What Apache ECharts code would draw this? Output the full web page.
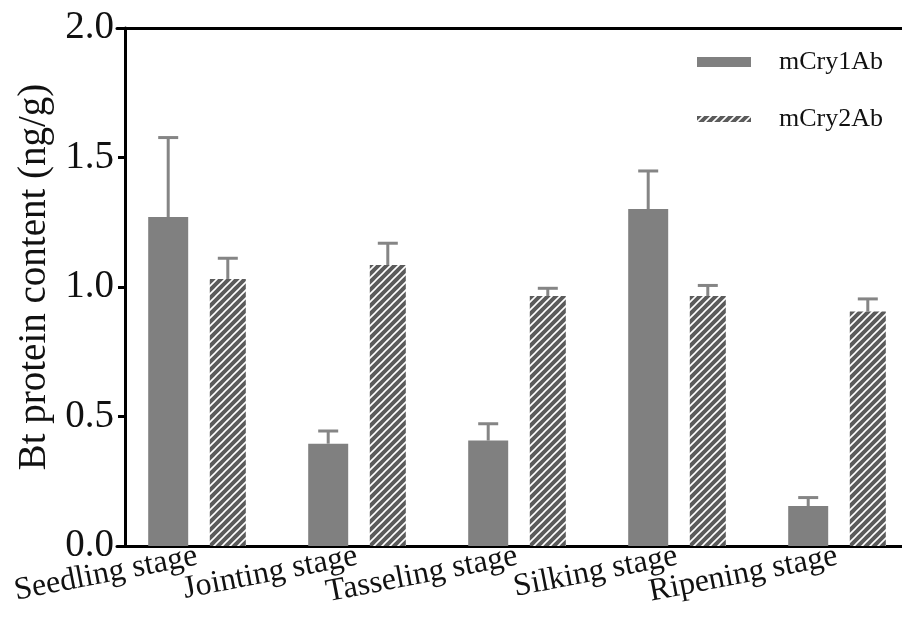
<!DOCTYPE html>
<html>
<head>
<meta charset="utf-8">
<script src="https://cdn.jsdelivr.net/npm/echarts@6/dist/echarts.min.js"></script>
<style>html,body{margin:0;padding:0;background:#fff}#c{width:902px;height:621px}</style>
</head>
<body>
<div id="c"></div>
<script>
const categories = ['Seedling stage', 'Jointing stage', 'Tasseling stage', 'Silking stage', 'Ripening stage'];
const cry1Ab = [1.270, 0.395, 0.407, 1.301, 0.154];
const cry1AbErr = [0.307, 0.049, 0.065, 0.147, 0.033];
const cry2Ab = [1.031, 1.085, 0.965, 0.965, 0.905];
const cry2AbErr = [0.080, 0.084, 0.030, 0.041, 0.049];
const yTicks = [0, 0.5, 1.0, 1.5, 2.0];

const FONT = '"Liberation Serif", "Times New Roman", serif';

// hatch pattern
const tile = document.createElement('canvas');
tile.width = 8; tile.height = 8;
const g = tile.getContext('2d');
g.fillStyle = '#5b5b5b';
g.fillRect(0, 0, 8, 8);
g.strokeStyle = '#ffffff';
g.lineWidth = 1.6;
g.beginPath();
g.moveTo(-1, 9); g.lineTo(9, -1);
g.moveTo(-1, 1); g.lineTo(1, -1);
g.moveTo(7, 9); g.lineTo(9, 7);
g.stroke();
const hatch = { image: tile, repeat: 'repeat' };

const W1 = 40, W2 = 36, GAP = 0.54;
const sum = W1 + W1 * GAP + W2;
const off1 = -sum / 2 + W1 / 2;
const off2 = -sum / 2 + W1 * (1 + GAP) + W2 / 2;

function errRender(offset) {
  return function (params, api) {
    const x = api.value(0), m = api.value(1), e = api.value(2);
    const b = api.coord([x, m]);
    const t = api.coord([x, m + e]);
    const cx = b[0] + offset;
    const st = { stroke: '#858585', lineWidth: 3 };
    return {
      type: 'group',
      children: [
        { type: 'line', shape: { x1: cx, y1: b[1], x2: cx, y2: t[1] }, style: st },
        { type: 'line', shape: { x1: cx - 10, y1: t[1], x2: cx + 10, y2: t[1] }, style: st }
      ]
    };
  };
}

const chart = echarts.init(document.getElementById('c'), null, { renderer: 'canvas' });
chart.setOption({
  animation: false,
  backgroundColor: '#ffffff',
  grid: { left: 117, width: 800, top: 28, height: 518, containLabel: false, outerBoundsMode: 'none' },
  legend: {
    orient: 'vertical',
    left: 692,
    top: 44,
    itemWidth: 54,
    itemHeight: 10,
    itemGap: 31,
    textStyle: { fontFamily: FONT, fontSize: 26, color: '#111', padding: [0, 0, 0, 23] },
    data: [
      { name: 'mCry1Ab', icon: 'rect' },
      { name: 'mCry2Ab', icon: 'path://M0,0h54v6h-54z' }
    ]
  },
  xAxis: [
    {
      type: 'category',
      data: categories,
      position: 'bottom',
      axisLine: { show: true, lineStyle: { color: '#000', width: 3 } },
      axisTick: { show: false },
      axisLabel: { rotate: 11, margin: 10, fontFamily: FONT, fontSize: 32, color: '#111', interval: 0 }
    },
    {
      type: 'category',
      data: categories,
      position: 'top',
      axisLine: { show: true, lineStyle: { color: '#000', width: 3 } },
      axisTick: { show: false },
      axisLabel: { show: false }
    }
  ],
  yAxis: {
    type: 'value',
    min: 0, max: 2, interval: 0.5,
    offset: -8,
    name: 'Bt protein content (ng/g)',
    nameLocation: 'middle',
    nameGap: 70,
    nameTextStyle: { fontFamily: FONT, fontSize: 39, color: '#111', padding: [0, 0, 0, 20] },
    axisLine: { show: true, lineStyle: { color: '#000', width: 3 } },
    axisTick: { show: true, length: 7, inside: false, lineStyle: { color: '#000', width: 3 } },
    axisLabel: {
      margin: 11, fontFamily: FONT, fontSize: 39, color: '#111',
      formatter: v => (yTicks.indexOf(v) >= 0 ? v.toFixed(1) : '')
    },
    splitLine: { show: false }
  },
  series: [
    {
      name: 'mCry1Ab', type: 'bar', data: cry1Ab, barWidth: W1, barGap: (GAP * 100) + '%',
      itemStyle: { color: '#808080' }, z: 2
    },
    {
      name: 'mCry2Ab', type: 'bar', data: cry2Ab, barWidth: W2,
      itemStyle: { color: hatch }, z: 2
    },
    {
      name: 'err1', type: 'custom', renderItem: errRender(off1), z: 3,
      data: cry1Ab.map((v, i) => [i, v, cry1AbErr[i]])
    },
    {
      name: 'err2', type: 'custom', renderItem: errRender(off2), z: 3,
      data: cry2Ab.map((v, i) => [i, v, cry2AbErr[i]])
    }
  ]
});
</script>
</body>
</html>
